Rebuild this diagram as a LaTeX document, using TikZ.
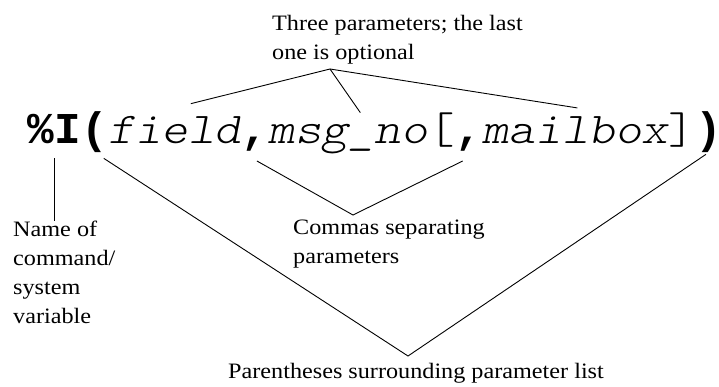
\documentclass[tikz,border=0pt]{standalone}
\usepackage{fontspec}
\setmainfont{Liberation Serif}[FakeStretch=1.1]
\newfontfamily\codefont{lmmonolt10-regular.otf}[ItalicFont=lmmonolt10-oblique.otf, BoldFont=lmmonolt10-bold.otf, FakeStretch=1.15]
\newfontfamily\codeboldfont{Liberation Mono}[FakeStretch=1.006]
\usepackage{tikz}
\usetikzlibrary{calc}

\tikzset{
  code/.style={inner sep=0pt, anchor=base west, font={\codefont\fontsize{44}{48}\selectfont}},
  note/.style={inner sep=0pt, anchor=north west, align=left, font={\fontsize{22}{29}\selectfont}},
  lead/.style={line width=0.9pt}
}

\begin{document}
\begin{tikzpicture}[x=1pt, y=-1pt]
\useasboundingbox (0,0) rectangle (719,386);

% the syntax line
\node[code] (cmd) at (27.75,143) {\codeboldfont\bfseries\%I};
\node[code] (lp) at (cmd.base east) {\codeboldfont\bfseries(};
\node[code] (fld) at (lp.base east) {\itshape field};
\node[code] (ca) at (fld.base east) {\codeboldfont\bfseries,};
\node[code] (msg) at (ca.base east) {\itshape msg\_no};
\node[code] (lb) at (msg.base east) {[};
\node[code] (cb) at (lb.base east) {\codeboldfont\bfseries,};
\node[code] (mail) at (cb.base east) {\itshape mailbox};
\node[code] (rb) at (mail.base east) {]};
\node[code] (rp) at (rb.base east) {\codeboldfont\bfseries)};

% notes
\node[note] (three) at (272,15) {Three parameters; the last\\one is optional};
\node[note] (nm) at (13,221) {Name of\\command/\\system\\variable};
\node[note] (cm) at (293,220) {Commas separating\\parameters};
\node[note] (pa) at (228,363) {Parentheses surrounding parameter list};

\coordinate (ptop) at (330,69);
\coordinate (ctop) at (353,215);
\coordinate (rtop) at (408,356);

\draw[lead] ([shift={(16,-12)}]fld.north) -- (ptop);
\draw[lead] ([shift={(12,-11)}]msg.north) -- (ptop);
\draw[lead] ([shift={(2,-8)}]mail.north) -- (ptop);

\draw[lead] ([yshift=-15pt]cmd.south) -- (cmd.south |- nm.north);

\draw[lead] ([shift={(2,10)}]ca.south) -- (ctop) -- ([shift={(-6,10)}]cb.south);

\draw[lead] ([shift={(9,6)}]lp.south) -- (rtop) -- ([shift={(-3,2)}]rp.south);

\end{tikzpicture}
\end{document}
